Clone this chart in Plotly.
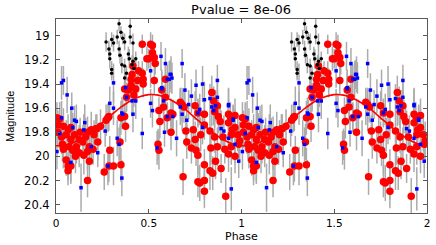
import plotly.graph_objects as go

# ---- data (one period, phase 0..1; plotted twice: phase and phase+1) ----
red_phase = [0.465, 0.52, 0.49, 0.53, 0.535, 0.51, 0.52, 0.50, 0.53, 0.465, 0.47, 0.47,
             0.415, 0.41, 0.405, 0.40, 0.44, 0.43, 0.42, 0.39, 0.38, 0.445, 0.405, 0.37,
             0.59, 0.59, 0.58, 0.555, 0.57, 0.63, 0.68, 0.67, 0.69, 0.75, 0.765, 0.80,
             0.85, 0.84, 0.87, 0.855, 0.93, 0.965, 0.28, 0.37, 0.005, 0.62,
             0.02, 0.01, 0.04, 0.065, 0.08, 0.055, 0.03, 0.08, 0.10, 0.125, 0.145, 0.16,
             0.17, 0.19, 0.215, 0.24, 0.18, 0.20, 0.17, 0.125, 0.105, 0.15, 0.055, 0.065,
             0.08, 0.065, 0.18, 0.26, 0.285, 0.31, 0.35, 0.29, 0.345, 0.17, 0.27, 0.285,
             0.35, 0.375, 0.225, 0.205, 0.11, 0.04, 0.07, 0.22,
             0.56, 0.60, 0.62, 0.55, 0.555, 0.685, 0.70, 0.705, 0.74, 0.75, 0.755, 0.765,
             0.78, 0.80, 0.83, 0.855, 0.87, 0.835, 0.91, 0.945, 0.80, 0.83, 0.845, 0.89,
             0.86, 0.765, 0.80, 0.80, 0.915, 0.885, 0.93, 0.965, 0.98, 0.99, 0.945, 0.90,
             0.93, 0.965, 0.73, 0.94, 0.875, 0.775, 0.01, 0.035, 0.09, 0.13, 0.95, 0.985]
red_mag = [19.07, 19.08, 19.19, 19.18, 19.23, 19.07, 19.14, 19.19, 19.37, 19.31, 19.36, 19.40,
           19.25, 19.32, 19.36, 19.43, 19.37, 19.44, 19.49, 19.45, 19.51, 19.29, 19.41, 19.44,
           19.36, 19.51, 19.59, 19.62, 19.45, 19.65, 19.57, 19.55, 19.59, 19.58, 19.64, 19.65,
           19.54, 19.47, 19.58, 19.63, 19.65, 19.66, 19.68, 19.67, 19.68, 19.64,
           19.69, 19.74, 19.75, 19.78, 19.76, 19.82, 19.84, 19.86, 19.82, 19.86, 19.88, 19.84,
           19.80, 19.78, 19.77, 19.75, 19.92, 19.94, 19.96, 19.97, 20.00, 19.99, 20.03, 20.08,
           20.08, 20.12, 20.04, 20.13, 20.08, 20.08, 20.07, 19.95, 19.88, 20.20, 19.70, 19.67,
           19.68, 19.75, 19.88, 19.82, 19.92, 19.94, 19.92, 19.77,
           19.71, 19.68, 19.80, 19.90, 19.95, 20.17, 19.79, 19.88, 19.78, 19.86, 19.95, 19.99,
           19.82, 19.74, 19.79, 19.84, 19.92, 19.93, 19.94, 19.92, 20.07, 20.12, 20.14, 20.10,
           20.04, 20.21, 20.20, 20.29, 20.33, 19.71, 19.72, 19.76, 19.82, 19.87, 19.82, 19.84,
           19.98, 20.00, 19.93, 19.67, 19.67, 20.22, 19.80, 19.90, 19.95, 19.80, 19.78, 19.90]
red_err = [0.08, 0.09, 0.10, 0.08, 0.09, 0.10, 0.09, 0.08, 0.12, 0.10, 0.09, 0.11,
           0.08, 0.09, 0.10, 0.09, 0.10, 0.12, 0.10, 0.09, 0.11, 0.08, 0.10, 0.09,
           0.12, 0.10, 0.13, 0.11, 0.10, 0.12, 0.14, 0.12, 0.13, 0.12, 0.11, 0.13,
           0.12, 0.14, 0.12, 0.13, 0.12, 0.14, 0.12, 0.11, 0.13, 0.12,
           0.14, 0.12, 0.15, 0.13, 0.16, 0.12, 0.14, 0.13, 0.15, 0.12, 0.14, 0.16,
           0.13, 0.15, 0.12, 0.14, 0.16, 0.13, 0.15, 0.12, 0.14, 0.16, 0.13, 0.12,
           0.15, 0.12, 0.14, 0.15, 0.13, 0.16, 0.14, 0.12, 0.15, 0.14, 0.13, 0.12,
           0.14, 0.13, 0.15, 0.12, 0.14, 0.16, 0.13, 0.12,
           0.14, 0.12, 0.15, 0.13, 0.16, 0.15, 0.13, 0.14, 0.12, 0.15, 0.13, 0.16,
           0.14, 0.12, 0.15, 0.13, 0.16, 0.14, 0.12, 0.15, 0.13, 0.16, 0.14, 0.12,
           0.15, 0.13, 0.16, 0.14, 0.15, 0.13, 0.12, 0.15, 0.14, 0.16, 0.13, 0.12,
           0.15, 0.14, 0.13, 0.12, 0.14, 0.15, 0.13, 0.14, 0.15, 0.12, 0.14, 0.13]

blue_phase = [0.03, 0.04, 0.06, 0.085, 0.31, 0.38, 0.29, 0.41, 0.43, 0.375, 0.52, 0.57,
              0.625, 0.62, 0.60, 0.68, 0.73, 0.755, 0.79, 0.715, 0.68, 0.775, 0.84, 0.85,
              0.87, 0.63, 0.415, 0.36, 0.03, 0.005, 0.02, 0.09, 0.11, 0.155, 0.15, 0.08,
              0.19, 0.225, 0.135, 0.265, 0.33, 0.34, 0.28, 0.355, 0.465, 0.545, 0.585, 0.65,
              0.705, 0.79, 0.60, 0.89, 0.905, 0.93, 0.955, 0.965, 0.985, 0.945, 0.87, 0.93,
              0.955, 0.566, 0.59, 0.51, 0.615, 0.61, 0.57, 0.695, 0.83, 0.80, 0.86, 0.93,
              0.51, 0.58, 0.67, 0.765, 0.31, 0.355, 0.10]
blue_mag = [19.39, 19.37, 19.49, 19.60, 19.39, 19.51, 19.56, 19.54, 19.54, 19.43, 19.62, 19.44,
            19.35, 19.32, 19.36, 19.23, 19.50, 19.41, 19.40, 19.57, 19.65, 19.61, 19.59, 19.62,
            19.51, 19.67, 19.65, 19.65, 19.68, 19.96, 19.81, 19.76, 19.71, 19.72, 19.78, 20.05,
            19.92, 19.97, 20.26, 19.79, 19.85, 19.90, 20.08, 20.18, 19.81, 19.93, 19.80, 19.85,
            19.70, 19.76, 19.67, 19.77, 19.79, 19.85, 19.70, 19.90, 20.04, 20.27, 19.37, 19.57,
            19.69, 19.17, 19.23, 19.29, 19.32, 19.36, 19.43, 19.45, 19.52, 19.53, 19.58, 19.58,
            19.56, 19.54, 19.59, 19.64, 19.60, 19.64, 19.70]
blue_err = [0.14, 0.12, 0.15, 0.13, 0.16, 0.12, 0.14, 0.13, 0.15, 0.12, 0.14, 0.16,
            0.13, 0.15, 0.12, 0.12, 0.14, 0.13, 0.15, 0.12, 0.14, 0.13, 0.16, 0.12,
            0.14, 0.13, 0.15, 0.12, 0.14, 0.15, 0.13, 0.12, 0.14, 0.15, 0.13, 0.16,
            0.14, 0.12, 0.20, 0.13, 0.15, 0.14, 0.16, 0.15, 0.13, 0.14, 0.12, 0.15,
            0.13, 0.14, 0.12, 0.15, 0.13, 0.14, 0.12, 0.16, 0.14, 0.18, 0.13, 0.14,
            0.12, 0.12, 0.13, 0.14, 0.12, 0.15, 0.13, 0.14, 0.12, 0.15, 0.13, 0.14,
            0.12, 0.13, 0.15, 0.12, 0.14, 0.13, 0.12]

black_phase = [0.34, 0.40, 0.35, 0.27, 0.30, 0.31, 0.33, 0.36, 0.37, 0.40, 0.415, 0.285,
               0.29, 0.29, 0.30, 0.30, 0.34, 0.39, 0.395, 0.415, 0.43, 0.42, 0.37, 0.38,
               0.355, 0.37, 0.345, 0.41]
black_mag = [18.90, 18.92, 18.97, 19.05, 19.03, 19.06, 19.01, 19.02, 19.05, 19.01, 19.06, 19.11,
             19.15, 19.19, 19.28, 19.31, 19.11, 19.15, 19.19, 19.21, 19.19, 19.27, 19.35, 19.31,
             19.24, 19.25, 19.16, 19.24]
black_err = [0.06, 0.07, 0.05, 0.08, 0.06, 0.07, 0.06, 0.05, 0.07, 0.06, 0.08, 0.07,
             0.06, 0.08, 0.07, 0.06, 0.07, 0.06, 0.08, 0.07, 0.06, 0.07, 0.08, 0.06,
             0.07, 0.06, 0.07, 0.08]

fit_phase = [0.0, 0.05, 0.1, 0.15, 0.2, 0.25, 0.3, 0.35, 0.4, 0.45, 0.5,
             0.55, 0.6, 0.65, 0.7, 0.75, 0.8, 0.85, 0.9, 0.95, 1.0]
fit_mag = [19.912, 19.908, 19.883, 19.841, 19.785, 19.720, 19.654, 19.592, 19.540, 19.505, 19.488,
           19.492, 19.517, 19.559, 19.615, 19.680, 19.746, 19.808, 19.860, 19.895, 19.912]

x_ticks = [0, 0.5, 1, 1.5, 2]
x_ticklabels = ["0", "0.5", "1", "1.5", "2"]
y_ticks = [19, 19.2, 19.4, 19.6, 19.8, 20, 20.2, 20.4]
y_ticklabels = ["19", "19.2", "19.4", "19.6", "19.8", "20", "20.2", "20.4"]
title_text = "Pvalue = 8e-06"
x_label = "Phase"
y_label = "Magnitude"
WIDE = "DejaVu Sans, Verdana, sans-serif"
NARROW = "Liberation Sans, Arial, sans-serif"

M_L, M_R, M_T, M_B = 56, 9, 19, 32
H = 245


def twice(ph):
    return list(ph) + [p + 1 for p in ph]


fig = go.Figure()

# error bars (all series) first
all_ph = red_phase + blue_phase + black_phase
all_mag = red_mag + blue_mag + black_mag
all_err = red_err + blue_err + black_err
fig.add_trace(go.Scatter(
    x=twice(all_ph), y=all_mag * 2, mode="markers",
    marker=dict(size=1, color="rgba(0,0,0,0)"),
    error_y=dict(type="data", array=all_err * 2, color="#ababab", thickness=1.5, width=0),
    hoverinfo="skip", showlegend=False))

fig.add_trace(go.Scatter(
    x=twice(fit_phase), y=fit_mag * 2, mode="lines", line=dict(color="#ff0000", width=1.6, shape="spline"),
    showlegend=False))

fig.add_trace(go.Scatter(
    x=twice(red_phase), y=red_mag * 2, mode="markers",
    marker=dict(size=7.5, color="#ff0000", line=dict(width=0)), showlegend=False))

fig.add_trace(go.Scatter(
    x=twice(blue_phase), y=blue_mag * 2, mode="markers",
    marker=dict(size=3.5, symbol="square", color="#0000ff", line=dict(width=0)), showlegend=False))

fig.add_trace(go.Scatter(
    x=twice(black_phase), y=black_mag * 2, mode="markers",
    marker=dict(size=3.5, color="#000000", line=dict(width=0)), showlegend=False))

axis_common = dict(
    showgrid=False, zeroline=False, showline=True, linecolor="#5a5a5a", linewidth=1,
    mirror="ticks", ticks="inside", ticklen=4, tickcolor="#5a5a5a", automargin=False,
)

plot_h = H - M_T - M_B
fig.update_layout(
    width=436, height=H,
    margin=dict(l=M_L, r=M_R, t=M_T, b=M_B),
    paper_bgcolor="white", plot_bgcolor="white",
    title=dict(text=title_text, x=0.553, xanchor="center", y=0.963, yanchor="middle",
               font=dict(family=WIDE, size=13, color="#000000")),
    xaxis=dict(range=[0, 2], tickvals=x_ticks, ticktext=x_ticklabels,
               tickfont=dict(family=WIDE, size=10.5, color="#000000"), **axis_common),
    yaxis=dict(range=[20.47, 18.86], tickvals=y_ticks, ticktext=y_ticklabels,
               tickfont=dict(family=WIDE, size=11.5, color="#000000"),
               ticklabelstandoff=3, **axis_common),
    annotations=[
        dict(text=x_label, xref="paper", yref="paper", x=0.5, y=-M_B / plot_h, yanchor="bottom",
             showarrow=False, font=dict(family=WIDE, size=11, color="#000000")),
        dict(text=y_label, xref="paper", yref="paper", x=-0.124, y=0.5, textangle=-90,
             xanchor="center", yanchor="middle",
             showarrow=False, font=dict(family=NARROW, size=11, color="#000000")),
    ],
)

fig.write_html("out.html", config={"displayModeBar": False},
               post_script="document.body.style.margin='0';document.body.style.padding='0';")
